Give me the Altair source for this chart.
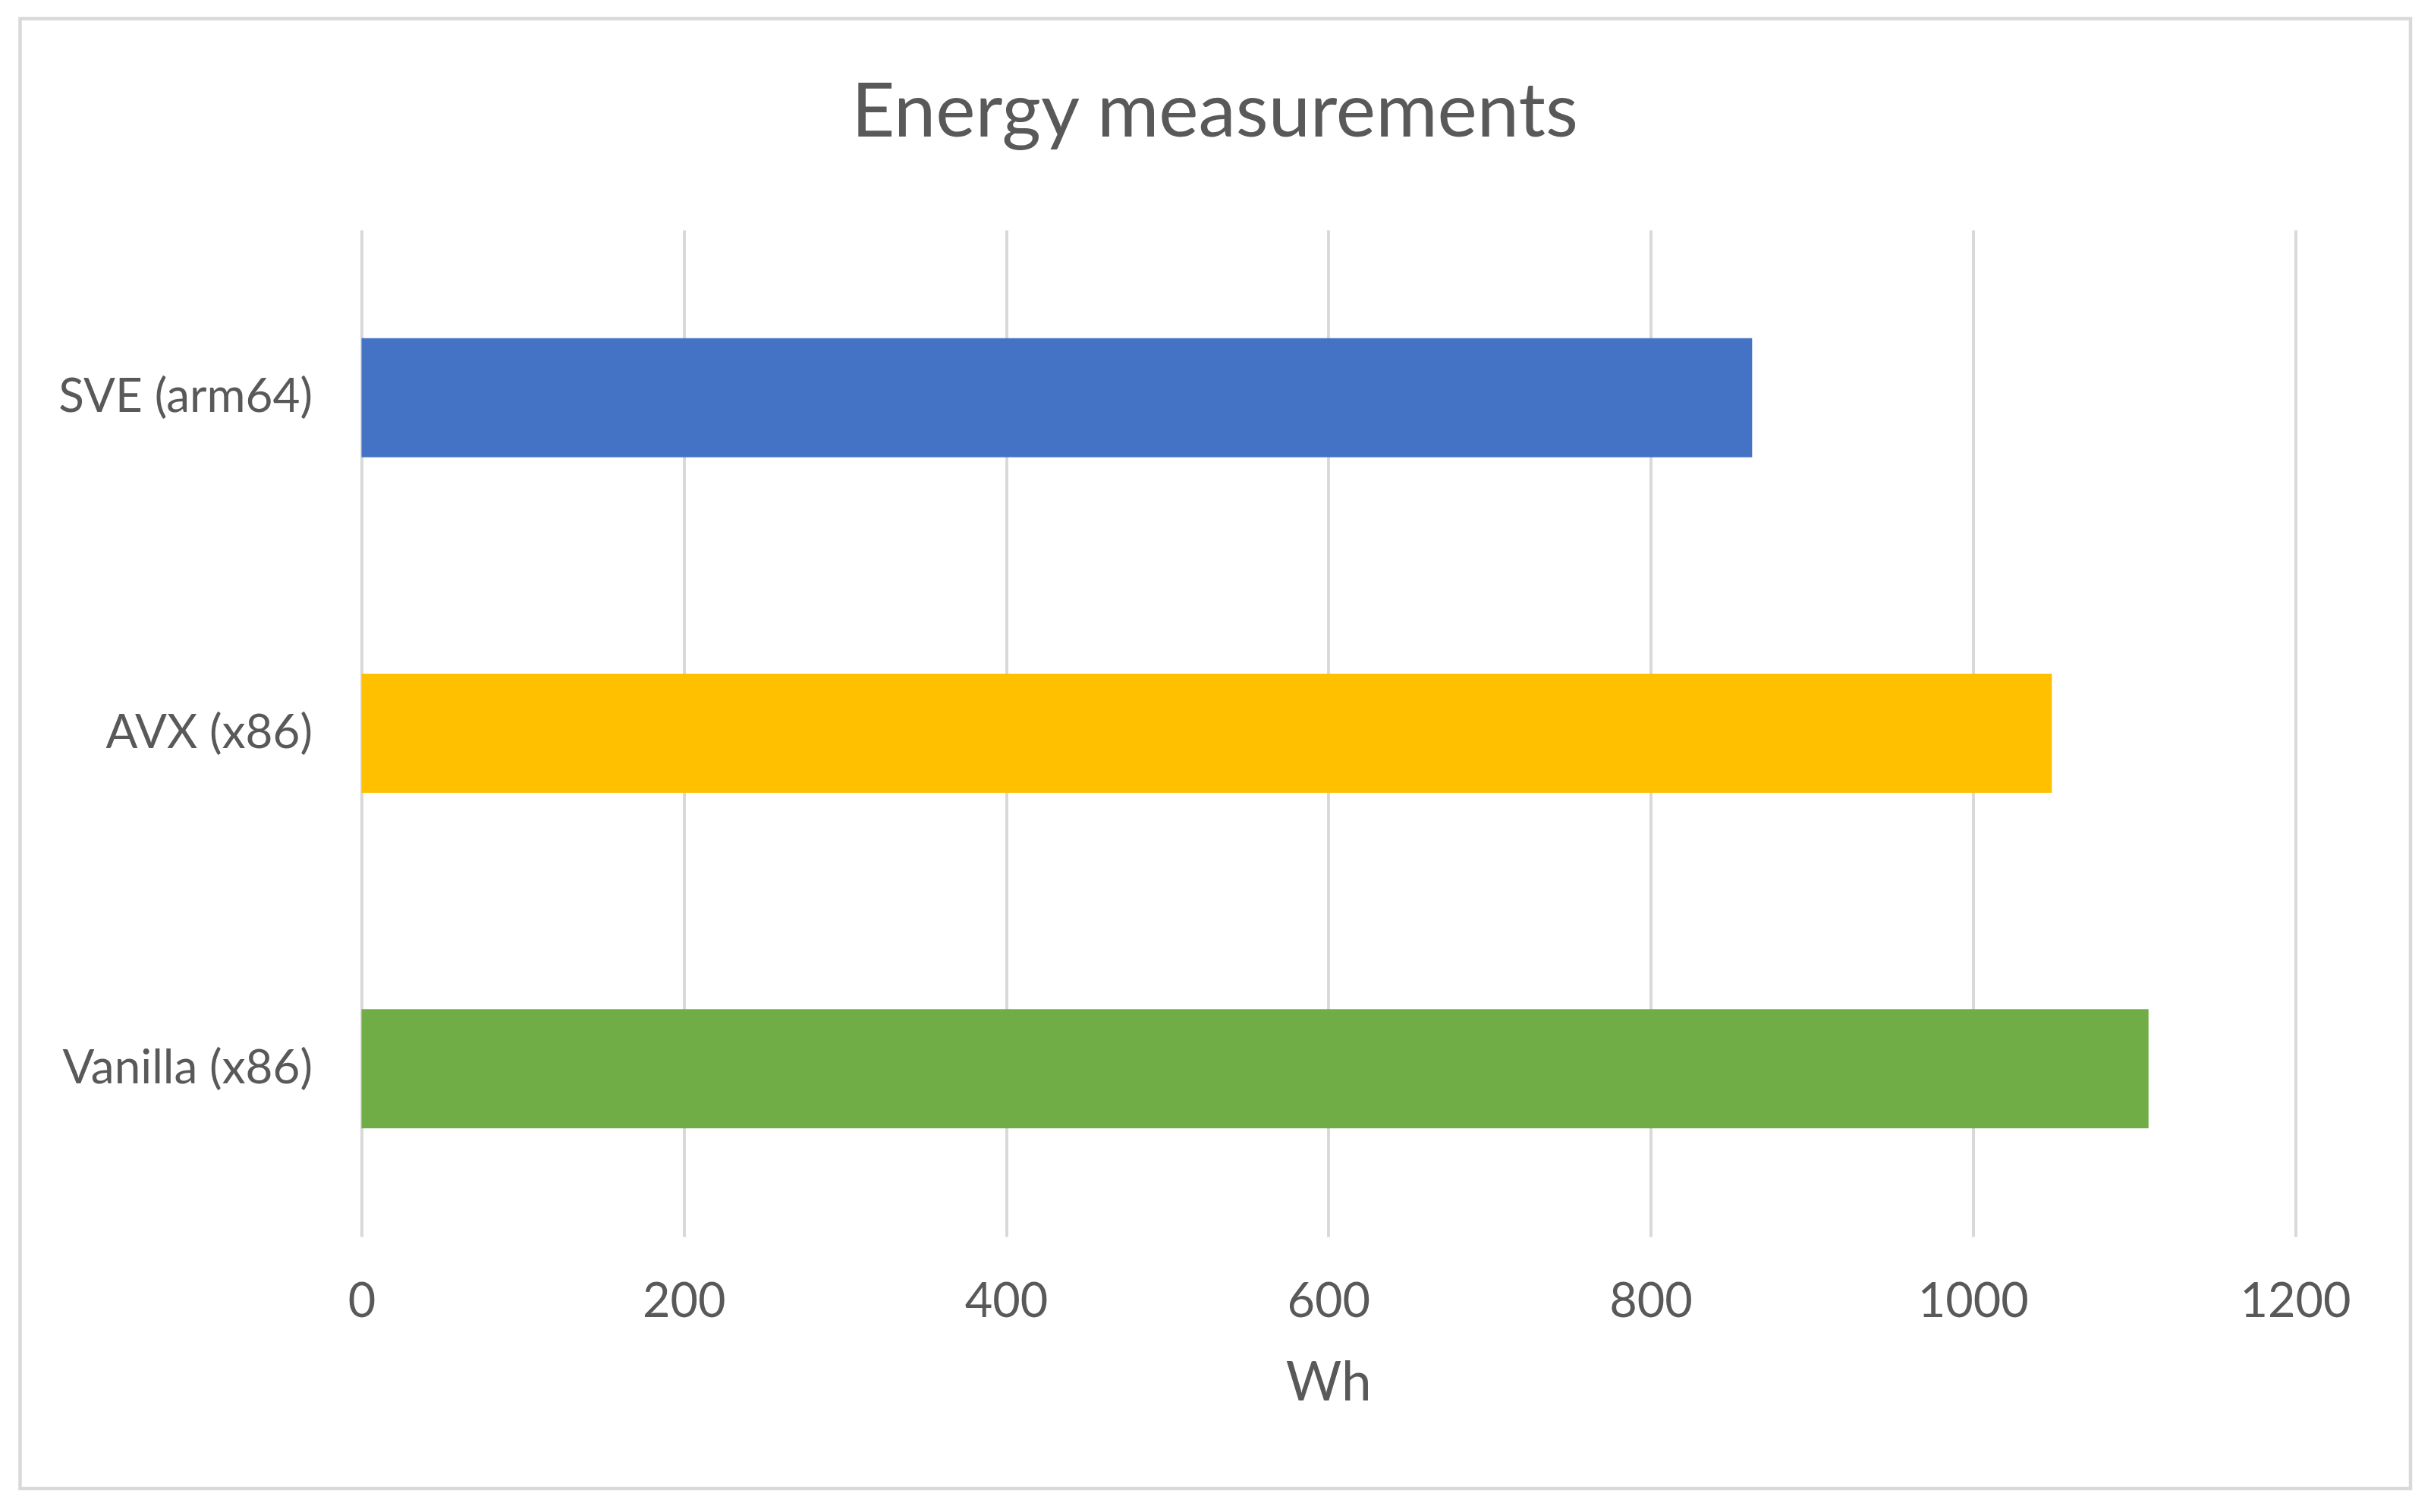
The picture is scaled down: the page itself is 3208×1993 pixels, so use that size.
import altair as alt
import pandas as pd

categories = ["SVE (arm64)", "AVX (x86)", "Vanilla (x86)"]
values = [863, 1049, 1109]
colors = ["#4472C4", "#FFC000", "#70AD47"]
tick_values = [0, 200, 400, 600, 800, 1000, 1200]
title_text = "Energy measurements"
axis_title = "Wh"

FONT = "Lato"
TXT = "#595959"

df = pd.DataFrame({"cat": categories, "val": values})

W, H = 2548.5, 1327

bars = alt.Chart(df).mark_bar(cornerRadius=0).encode(
    x=alt.X("val:Q",
            scale=alt.Scale(domain=[0, 1200], nice=False, zero=True),
            axis=alt.Axis(values=tick_values, format="d", grid=True, gridColor="#d9d9d9", gridWidth=4,
                          domain=False, ticks=False, labelFontSize=63, labelFont=FONT,
                          labelColor=TXT, labelPadding=105, labelBaseline="alphabetic",
                          labelFlush=False, labelOverlap=False,
                          title=axis_title, titleFont=FONT, titleFontSize=71,
                          titleFontWeight="normal", titleColor=TXT, titleY=215,
                          titleBaseline="alphabetic")),
    y=alt.Y("cat:N", sort=categories,
            scale=alt.Scale(paddingInner=0.645, paddingOuter=0.3225),
            axis=alt.Axis(title=None, domain=False, ticks=False, grid=False,
                          labelFontSize=62, labelFont=FONT, labelColor=TXT,
                          labelPadding=65, labelLimit=1000)),
    color=alt.Color("cat:N", scale=alt.Scale(domain=categories, range=colors), legend=None),
)

one = alt.Data(values=[{"k": 1}])

title = alt.Chart(one).mark_text(
    text=title_text, font=FONT, fontSize=99, color=TXT,
    align="center", baseline="alphabetic"
).encode(x=alt.value(1124.5), y=alt.value(-123))

border = alt.Chart(one).mark_rect(
    fill=None, stroke="#d9d9d9", strokeWidth=4.5
).encode(x=alt.value(-450), x2=alt.value(2700.5), y=alt.value(-278.5), y2=alt.value(1659))

chart = alt.layer(bars, title, border).properties(
    width=W, height=H,
    autosize=alt.AutoSizeParams(type="none"),
    padding={"left": 468.5, "top": 295, "right": 175, "bottom": 355},
    background="white",
).configure_view(stroke=None)

chart.save("out.html", embed_options={"renderer": "svg", "actions": False})
